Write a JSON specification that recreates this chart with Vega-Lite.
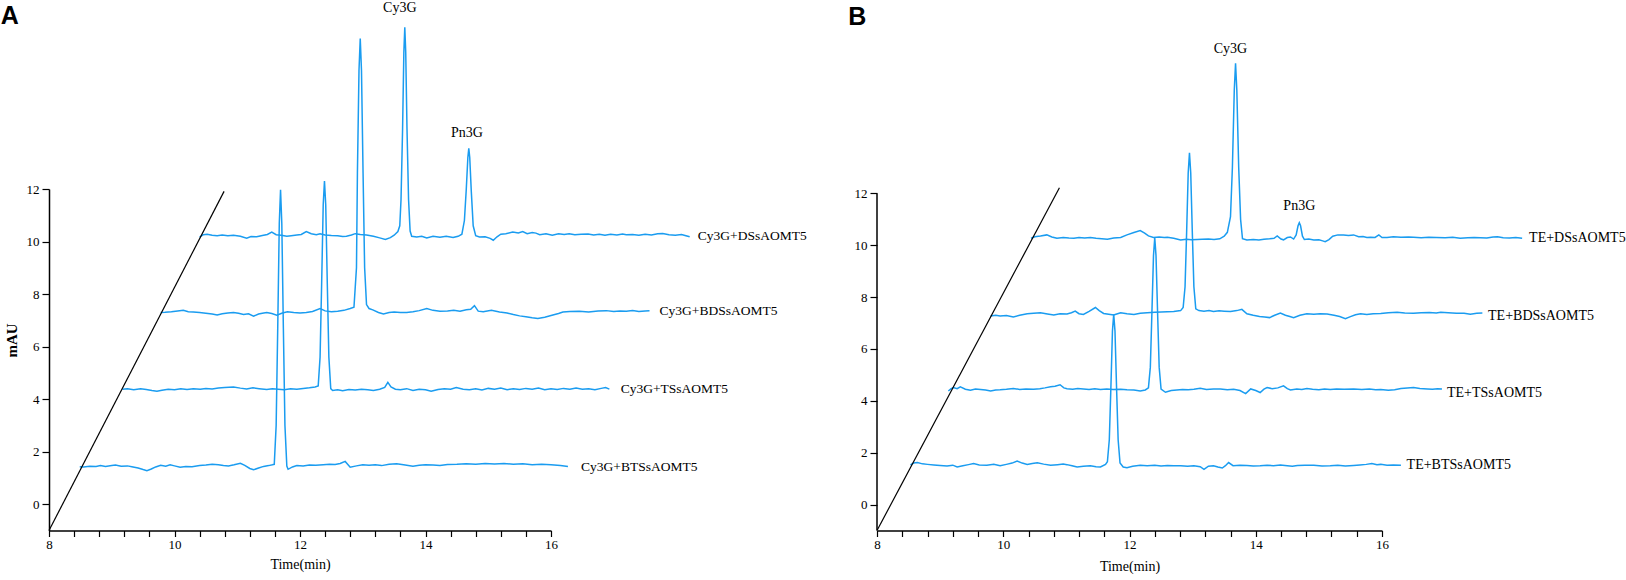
{
  "$schema": "https://vega.github.io/schema/vega-lite/v6.json",
  "background": "white",
  "padding": {"left": 0, "top": 1, "right": 0, "bottom": 0},
  "autosize": {"type": "pad"},
  "bounds": "flush",
  "spacing": 326,
  "config": {
    "view": {"stroke": null},
    "axis": {
      "grid": false,
      "domainColor": "black",
      "domainWidth": 1.5,
      "tickColor": "black",
      "tickWidth": 1.2,
      "labelColor": "black",
      "titleColor": "black",
      "labelFont": "Liberation Serif",
      "titleFont": "Liberation Serif",
      "labelFontSize": 13,
      "labelFlush": false,
      "labelOverlap": false,
      "format": "d"
    }
  },
  "datasets": {
    "A_traces": [
      {"s":"A1","x":8.49,"y":1.43},{"s":"A1","x":8.55,"y":1.42},{"s":"A1","x":8.65,"y":1.45},{"s":"A1","x":8.75,"y":1.44},{"s":"A1","x":8.82,"y":1.47},{"s":"A1","x":8.9,"y":1.44},{"s":"A1","x":9.0,"y":1.47},{"s":"A1","x":9.06,"y":1.49},{"s":"A1","x":9.15,"y":1.45},{"s":"A1","x":9.25,"y":1.46},{"s":"A1","x":9.32,"y":1.43},{"s":"A1","x":9.42,"y":1.38},{"s":"A1","x":9.5,"y":1.32},{"s":"A1","x":9.56,"y":1.28},{"s":"A1","x":9.63,"y":1.34},{"s":"A1","x":9.7,"y":1.42},{"s":"A1","x":9.78,"y":1.48},{"s":"A1","x":9.86,"y":1.45},{"s":"A1","x":9.93,"y":1.5},{"s":"A1","x":10.0,"y":1.46},{"s":"A1","x":10.09,"y":1.41},{"s":"A1","x":10.18,"y":1.44},{"s":"A1","x":10.28,"y":1.43},{"s":"A1","x":10.4,"y":1.47},{"s":"A1","x":10.5,"y":1.49},{"s":"A1","x":10.6,"y":1.52},{"s":"A1","x":10.7,"y":1.5},{"s":"A1","x":10.78,"y":1.47},{"s":"A1","x":10.86,"y":1.46},{"s":"A1","x":10.95,"y":1.5},{"s":"A1","x":11.05,"y":1.56},{"s":"A1","x":11.12,"y":1.48},{"s":"A1","x":11.2,"y":1.36},{"s":"A1","x":11.26,"y":1.31},{"s":"A1","x":11.34,"y":1.38},{"s":"A1","x":11.42,"y":1.44},{"s":"A1","x":11.5,"y":1.47},{"s":"A1","x":11.56,"y":1.5},{"s":"A1","x":11.59,"y":1.52},{"s":"A1","x":11.62,"y":3.0},{"s":"A1","x":11.645,"y":6.7},{"s":"A1","x":11.67,"y":10.7},{"s":"A1","x":11.69,"y":11.97},{"s":"A1","x":11.71,"y":10.7},{"s":"A1","x":11.735,"y":6.7},{"s":"A1","x":11.76,"y":3.0},{"s":"A1","x":11.79,"y":1.45},{"s":"A1","x":11.81,"y":1.33},{"s":"A1","x":11.88,"y":1.42},{"s":"A1","x":11.95,"y":1.47},{"s":"A1","x":12.05,"y":1.46},{"s":"A1","x":12.15,"y":1.49},{"s":"A1","x":12.25,"y":1.48},{"s":"A1","x":12.37,"y":1.5},{"s":"A1","x":12.47,"y":1.52},{"s":"A1","x":12.56,"y":1.51},{"s":"A1","x":12.64,"y":1.55},{"s":"A1","x":12.72,"y":1.63},{"s":"A1","x":12.8,"y":1.41},{"s":"A1","x":12.9,"y":1.46},{"s":"A1","x":13.0,"y":1.5},{"s":"A1","x":13.1,"y":1.48},{"s":"A1","x":13.2,"y":1.5},{"s":"A1","x":13.3,"y":1.47},{"s":"A1","x":13.42,"y":1.52},{"s":"A1","x":13.54,"y":1.54},{"s":"A1","x":13.65,"y":1.5},{"s":"A1","x":13.8,"y":1.45},{"s":"A1","x":13.9,"y":1.48},{"s":"A1","x":14.0,"y":1.5},{"s":"A1","x":14.12,"y":1.49},{"s":"A1","x":14.23,"y":1.47},{"s":"A1","x":14.35,"y":1.51},{"s":"A1","x":14.5,"y":1.52},{"s":"A1","x":14.65,"y":1.54},{"s":"A1","x":14.8,"y":1.52},{"s":"A1","x":14.95,"y":1.55},{"s":"A1","x":15.1,"y":1.53},{"s":"A1","x":15.25,"y":1.55},{"s":"A1","x":15.4,"y":1.52},{"s":"A1","x":15.55,"y":1.54},{"s":"A1","x":15.7,"y":1.5},{"s":"A1","x":15.85,"y":1.52},{"s":"A1","x":16.0,"y":1.5},{"s":"A1","x":16.15,"y":1.47},{"s":"A1","x":16.27,"y":1.44},
      {"s":"A2","x":9.17,"y":4.38},{"s":"A2","x":9.25,"y":4.4},{"s":"A2","x":9.35,"y":4.36},{"s":"A2","x":9.46,"y":4.4},{"s":"A2","x":9.55,"y":4.37},{"s":"A2","x":9.64,"y":4.33},{"s":"A2","x":9.72,"y":4.3},{"s":"A2","x":9.8,"y":4.34},{"s":"A2","x":9.9,"y":4.38},{"s":"A2","x":10.0,"y":4.36},{"s":"A2","x":10.1,"y":4.4},{"s":"A2","x":10.2,"y":4.37},{"s":"A2","x":10.3,"y":4.4},{"s":"A2","x":10.41,"y":4.38},{"s":"A2","x":10.5,"y":4.41},{"s":"A2","x":10.6,"y":4.39},{"s":"A2","x":10.7,"y":4.42},{"s":"A2","x":10.8,"y":4.44},{"s":"A2","x":10.94,"y":4.46},{"s":"A2","x":11.05,"y":4.42},{"s":"A2","x":11.15,"y":4.39},{"s":"A2","x":11.25,"y":4.43},{"s":"A2","x":11.35,"y":4.4},{"s":"A2","x":11.47,"y":4.37},{"s":"A2","x":11.56,"y":4.4},{"s":"A2","x":11.65,"y":4.38},{"s":"A2","x":11.75,"y":4.36},{"s":"A2","x":11.85,"y":4.4},{"s":"A2","x":11.95,"y":4.38},{"s":"A2","x":12.05,"y":4.41},{"s":"A2","x":12.15,"y":4.43},{"s":"A2","x":12.24,"y":4.46},{"s":"A2","x":12.29,"y":4.5},{"s":"A2","x":12.32,"y":5.6},{"s":"A2","x":12.345,"y":8.4},{"s":"A2","x":12.37,"y":11.4},{"s":"A2","x":12.39,"y":12.3},{"s":"A2","x":12.41,"y":11.4},{"s":"A2","x":12.435,"y":8.4},{"s":"A2","x":12.46,"y":5.6},{"s":"A2","x":12.49,"y":4.4},{"s":"A2","x":12.52,"y":4.33},{"s":"A2","x":12.6,"y":4.36},{"s":"A2","x":12.68,"y":4.32},{"s":"A2","x":12.78,"y":4.37},{"s":"A2","x":12.88,"y":4.35},{"s":"A2","x":12.98,"y":4.38},{"s":"A2","x":13.08,"y":4.36},{"s":"A2","x":13.17,"y":4.33},{"s":"A2","x":13.27,"y":4.38},{"s":"A2","x":13.35,"y":4.45},{"s":"A2","x":13.4,"y":4.64},{"s":"A2","x":13.45,"y":4.47},{"s":"A2","x":13.52,"y":4.38},{"s":"A2","x":13.6,"y":4.36},{"s":"A2","x":13.7,"y":4.4},{"s":"A2","x":13.8,"y":4.33},{"s":"A2","x":13.9,"y":4.38},{"s":"A2","x":14.0,"y":4.36},{"s":"A2","x":14.09,"y":4.3},{"s":"A2","x":14.2,"y":4.37},{"s":"A2","x":14.3,"y":4.4},{"s":"A2","x":14.4,"y":4.38},{"s":"A2","x":14.49,"y":4.44},{"s":"A2","x":14.6,"y":4.38},{"s":"A2","x":14.7,"y":4.36},{"s":"A2","x":14.8,"y":4.4},{"s":"A2","x":14.9,"y":4.35},{"s":"A2","x":15.0,"y":4.41},{"s":"A2","x":15.1,"y":4.38},{"s":"A2","x":15.2,"y":4.42},{"s":"A2","x":15.3,"y":4.36},{"s":"A2","x":15.4,"y":4.4},{"s":"A2","x":15.5,"y":4.37},{"s":"A2","x":15.6,"y":4.41},{"s":"A2","x":15.7,"y":4.38},{"s":"A2","x":15.8,"y":4.42},{"s":"A2","x":15.9,"y":4.36},{"s":"A2","x":16.0,"y":4.4},{"s":"A2","x":16.1,"y":4.37},{"s":"A2","x":16.2,"y":4.41},{"s":"A2","x":16.3,"y":4.38},{"s":"A2","x":16.4,"y":4.42},{"s":"A2","x":16.5,"y":4.38},{"s":"A2","x":16.6,"y":4.4},{"s":"A2","x":16.7,"y":4.36},{"s":"A2","x":16.8,"y":4.41},{"s":"A2","x":16.87,"y":4.44},{"s":"A2","x":16.93,"y":4.38},
      {"s":"A3","x":9.78,"y":7.3},{"s":"A3","x":9.85,"y":7.31},{"s":"A3","x":9.95,"y":7.33},{"s":"A3","x":10.05,"y":7.36},{"s":"A3","x":10.14,"y":7.38},{"s":"A3","x":10.22,"y":7.33},{"s":"A3","x":10.3,"y":7.32},{"s":"A3","x":10.4,"y":7.3},{"s":"A3","x":10.5,"y":7.27},{"s":"A3","x":10.6,"y":7.24},{"s":"A3","x":10.68,"y":7.2},{"s":"A3","x":10.76,"y":7.25},{"s":"A3","x":10.85,"y":7.28},{"s":"A3","x":10.94,"y":7.3},{"s":"A3","x":11.02,"y":7.27},{"s":"A3","x":11.1,"y":7.22},{"s":"A3","x":11.18,"y":7.25},{"s":"A3","x":11.26,"y":7.16},{"s":"A3","x":11.34,"y":7.24},{"s":"A3","x":11.4,"y":7.27},{"s":"A3","x":11.47,"y":7.3},{"s":"A3","x":11.55,"y":7.26},{"s":"A3","x":11.63,"y":7.2},{"s":"A3","x":11.72,"y":7.28},{"s":"A3","x":11.8,"y":7.33},{"s":"A3","x":11.9,"y":7.3},{"s":"A3","x":12.0,"y":7.28},{"s":"A3","x":12.1,"y":7.3},{"s":"A3","x":12.2,"y":7.34},{"s":"A3","x":12.32,"y":7.45},{"s":"A3","x":12.4,"y":7.36},{"s":"A3","x":12.5,"y":7.33},{"s":"A3","x":12.6,"y":7.35},{"s":"A3","x":12.7,"y":7.38},{"s":"A3","x":12.8,"y":7.45},{"s":"A3","x":12.86,"y":7.5},{"s":"A3","x":12.9,"y":9.0},{"s":"A3","x":12.915,"y":12.6},{"s":"A3","x":12.94,"y":16.5},{"s":"A3","x":12.96,"y":17.73},{"s":"A3","x":12.98,"y":16.5},{"s":"A3","x":13.005,"y":12.6},{"s":"A3","x":13.03,"y":9.0},{"s":"A3","x":13.06,"y":7.6},{"s":"A3","x":13.1,"y":7.45},{"s":"A3","x":13.16,"y":7.4},{"s":"A3","x":13.25,"y":7.3},{"s":"A3","x":13.33,"y":7.24},{"s":"A3","x":13.42,"y":7.3},{"s":"A3","x":13.5,"y":7.32},{"s":"A3","x":13.6,"y":7.3},{"s":"A3","x":13.7,"y":7.3},{"s":"A3","x":13.8,"y":7.33},{"s":"A3","x":13.9,"y":7.37},{"s":"A3","x":14.02,"y":7.45},{"s":"A3","x":14.12,"y":7.38},{"s":"A3","x":14.23,"y":7.35},{"s":"A3","x":14.35,"y":7.36},{"s":"A3","x":14.45,"y":7.38},{"s":"A3","x":14.55,"y":7.35},{"s":"A3","x":14.65,"y":7.4},{"s":"A3","x":14.72,"y":7.42},{"s":"A3","x":14.78,"y":7.56},{"s":"A3","x":14.84,"y":7.35},{"s":"A3","x":14.92,"y":7.33},{"s":"A3","x":15.05,"y":7.38},{"s":"A3","x":15.18,"y":7.32},{"s":"A3","x":15.3,"y":7.28},{"s":"A3","x":15.4,"y":7.22},{"s":"A3","x":15.5,"y":7.17},{"s":"A3","x":15.6,"y":7.14},{"s":"A3","x":15.7,"y":7.1},{"s":"A3","x":15.79,"y":7.07},{"s":"A3","x":15.9,"y":7.12},{"s":"A3","x":16.03,"y":7.2},{"s":"A3","x":16.12,"y":7.26},{"s":"A3","x":16.19,"y":7.32},{"s":"A3","x":16.3,"y":7.34},{"s":"A3","x":16.45,"y":7.35},{"s":"A3","x":16.6,"y":7.32},{"s":"A3","x":16.75,"y":7.36},{"s":"A3","x":16.88,"y":7.37},{"s":"A3","x":17.0,"y":7.34},{"s":"A3","x":17.1,"y":7.36},{"s":"A3","x":17.2,"y":7.35},{"s":"A3","x":17.3,"y":7.37},{"s":"A3","x":17.4,"y":7.34},{"s":"A3","x":17.5,"y":7.36},{"s":"A3","x":17.57,"y":7.37},
      {"s":"A4","x":10.4,"y":10.17},{"s":"A4","x":10.46,"y":10.26},{"s":"A4","x":10.52,"y":10.28},{"s":"A4","x":10.6,"y":10.24},{"s":"A4","x":10.68,"y":10.22},{"s":"A4","x":10.76,"y":10.25},{"s":"A4","x":10.85,"y":10.22},{"s":"A4","x":10.94,"y":10.24},{"s":"A4","x":11.05,"y":10.2},{"s":"A4","x":11.15,"y":10.13},{"s":"A4","x":11.22,"y":10.19},{"s":"A4","x":11.31,"y":10.18},{"s":"A4","x":11.4,"y":10.23},{"s":"A4","x":11.48,"y":10.27},{"s":"A4","x":11.55,"y":10.36},{"s":"A4","x":11.62,"y":10.26},{"s":"A4","x":11.7,"y":10.24},{"s":"A4","x":11.79,"y":10.2},{"s":"A4","x":11.86,"y":10.22},{"s":"A4","x":11.95,"y":10.25},{"s":"A4","x":12.02,"y":10.27},{"s":"A4","x":12.1,"y":10.38},{"s":"A4","x":12.18,"y":10.3},{"s":"A4","x":12.26,"y":10.26},{"s":"A4","x":12.32,"y":10.3},{"s":"A4","x":12.4,"y":10.25},{"s":"A4","x":12.5,"y":10.23},{"s":"A4","x":12.6,"y":10.22},{"s":"A4","x":12.68,"y":10.19},{"s":"A4","x":12.74,"y":10.2},{"s":"A4","x":12.82,"y":10.25},{"s":"A4","x":12.88,"y":10.3},{"s":"A4","x":12.96,"y":10.27},{"s":"A4","x":13.06,"y":10.25},{"s":"A4","x":13.17,"y":10.2},{"s":"A4","x":13.27,"y":10.14},{"s":"A4","x":13.36,"y":10.08},{"s":"A4","x":13.44,"y":10.15},{"s":"A4","x":13.5,"y":10.24},{"s":"A4","x":13.56,"y":10.38},{"s":"A4","x":13.59,"y":10.6},{"s":"A4","x":13.61,"y":11.6},{"s":"A4","x":13.635,"y":14.3},{"s":"A4","x":13.655,"y":17.2},{"s":"A4","x":13.67,"y":18.16},{"s":"A4","x":13.685,"y":17.2},{"s":"A4","x":13.705,"y":14.3},{"s":"A4","x":13.73,"y":11.6},{"s":"A4","x":13.755,"y":10.4},{"s":"A4","x":13.78,"y":10.2},{"s":"A4","x":13.86,"y":10.17},{"s":"A4","x":13.94,"y":10.2},{"s":"A4","x":14.02,"y":10.14},{"s":"A4","x":14.12,"y":10.2},{"s":"A4","x":14.23,"y":10.16},{"s":"A4","x":14.33,"y":10.2},{"s":"A4","x":14.44,"y":10.15},{"s":"A4","x":14.52,"y":10.2},{"s":"A4","x":14.58,"y":10.28},{"s":"A4","x":14.62,"y":10.8},{"s":"A4","x":14.65,"y":12.0},{"s":"A4","x":14.675,"y":13.2},{"s":"A4","x":14.69,"y":13.55},{"s":"A4","x":14.705,"y":13.2},{"s":"A4","x":14.73,"y":11.9},{"s":"A4","x":14.76,"y":10.6},{"s":"A4","x":14.8,"y":10.22},{"s":"A4","x":14.86,"y":10.17},{"s":"A4","x":14.95,"y":10.18},{"s":"A4","x":15.03,"y":10.12},{"s":"A4","x":15.08,"y":10.05},{"s":"A4","x":15.14,"y":10.18},{"s":"A4","x":15.2,"y":10.28},{"s":"A4","x":15.28,"y":10.3},{"s":"A4","x":15.39,"y":10.36},{"s":"A4","x":15.48,"y":10.33},{"s":"A4","x":15.55,"y":10.38},{"s":"A4","x":15.62,"y":10.3},{"s":"A4","x":15.7,"y":10.34},{"s":"A4","x":15.76,"y":10.32},{"s":"A4","x":15.82,"y":10.26},{"s":"A4","x":15.92,"y":10.3},{"s":"A4","x":16.02,"y":10.24},{"s":"A4","x":16.12,"y":10.3},{"s":"A4","x":16.21,"y":10.27},{"s":"A4","x":16.29,"y":10.3},{"s":"A4","x":16.38,"y":10.26},{"s":"A4","x":16.48,"y":10.28},{"s":"A4","x":16.59,"y":10.29},{"s":"A4","x":16.68,"y":10.25},{"s":"A4","x":16.77,"y":10.28},{"s":"A4","x":16.86,"y":10.24},{"s":"A4","x":16.95,"y":10.28},{"s":"A4","x":17.05,"y":10.25},{"s":"A4","x":17.14,"y":10.29},{"s":"A4","x":17.2,"y":10.26},{"s":"A4","x":17.3,"y":10.27},{"s":"A4","x":17.4,"y":10.24},{"s":"A4","x":17.5,"y":10.28},{"s":"A4","x":17.6,"y":10.25},{"s":"A4","x":17.7,"y":10.3},{"s":"A4","x":17.78,"y":10.31},{"s":"A4","x":17.88,"y":10.26},{"s":"A4","x":17.98,"y":10.24},{"s":"A4","x":18.08,"y":10.27},{"s":"A4","x":18.15,"y":10.22},{"s":"A4","x":18.21,"y":10.18}
    ],
    "B_traces": [
      {"s":"B1","x":8.53,"y":1.53},{"s":"B1","x":8.58,"y":1.6},{"s":"B1","x":8.64,"y":1.62},{"s":"B1","x":8.72,"y":1.57},{"s":"B1","x":8.8,"y":1.55},{"s":"B1","x":8.9,"y":1.53},{"s":"B1","x":9.0,"y":1.51},{"s":"B1","x":9.11,"y":1.49},{"s":"B1","x":9.2,"y":1.52},{"s":"B1","x":9.27,"y":1.45},{"s":"B1","x":9.36,"y":1.5},{"s":"B1","x":9.45,"y":1.54},{"s":"B1","x":9.53,"y":1.58},{"s":"B1","x":9.62,"y":1.53},{"s":"B1","x":9.74,"y":1.52},{"s":"B1","x":9.85,"y":1.55},{"s":"B1","x":9.95,"y":1.5},{"s":"B1","x":10.05,"y":1.55},{"s":"B1","x":10.14,"y":1.6},{"s":"B1","x":10.22,"y":1.68},{"s":"B1","x":10.3,"y":1.6},{"s":"B1","x":10.38,"y":1.55},{"s":"B1","x":10.46,"y":1.58},{"s":"B1","x":10.54,"y":1.61},{"s":"B1","x":10.64,"y":1.56},{"s":"B1","x":10.75,"y":1.52},{"s":"B1","x":10.86,"y":1.54},{"s":"B1","x":10.95,"y":1.56},{"s":"B1","x":11.01,"y":1.54},{"s":"B1","x":11.09,"y":1.5},{"s":"B1","x":11.17,"y":1.45},{"s":"B1","x":11.27,"y":1.48},{"s":"B1","x":11.38,"y":1.5},{"s":"B1","x":11.47,"y":1.46},{"s":"B1","x":11.54,"y":1.45},{"s":"B1","x":11.62,"y":1.55},{"s":"B1","x":11.65,"y":1.65},{"s":"B1","x":11.68,"y":2.5},{"s":"B1","x":11.705,"y":4.5},{"s":"B1","x":11.73,"y":6.7},{"s":"B1","x":11.75,"y":7.34},{"s":"B1","x":11.77,"y":6.7},{"s":"B1","x":11.795,"y":4.5},{"s":"B1","x":11.82,"y":2.5},{"s":"B1","x":11.85,"y":1.6},{"s":"B1","x":11.9,"y":1.45},{"s":"B1","x":11.96,"y":1.42},{"s":"B1","x":12.05,"y":1.48},{"s":"B1","x":12.17,"y":1.52},{"s":"B1","x":12.28,"y":1.5},{"s":"B1","x":12.4,"y":1.52},{"s":"B1","x":12.5,"y":1.49},{"s":"B1","x":12.6,"y":1.51},{"s":"B1","x":12.7,"y":1.5},{"s":"B1","x":12.81,"y":1.5},{"s":"B1","x":12.92,"y":1.48},{"s":"B1","x":13.02,"y":1.5},{"s":"B1","x":13.12,"y":1.46},{"s":"B1","x":13.18,"y":1.36},{"s":"B1","x":13.25,"y":1.48},{"s":"B1","x":13.33,"y":1.5},{"s":"B1","x":13.4,"y":1.45},{"s":"B1","x":13.47,"y":1.41},{"s":"B1","x":13.52,"y":1.5},{"s":"B1","x":13.57,"y":1.62},{"s":"B1","x":13.64,"y":1.5},{"s":"B1","x":13.75,"y":1.52},{"s":"B1","x":13.86,"y":1.51},{"s":"B1","x":13.96,"y":1.49},{"s":"B1","x":14.07,"y":1.5},{"s":"B1","x":14.18,"y":1.52},{"s":"B1","x":14.28,"y":1.5},{"s":"B1","x":14.39,"y":1.53},{"s":"B1","x":14.5,"y":1.5},{"s":"B1","x":14.58,"y":1.48},{"s":"B1","x":14.66,"y":1.51},{"s":"B1","x":14.78,"y":1.52},{"s":"B1","x":14.92,"y":1.52},{"s":"B1","x":15.05,"y":1.49},{"s":"B1","x":15.18,"y":1.5},{"s":"B1","x":15.3,"y":1.52},{"s":"B1","x":15.42,"y":1.49},{"s":"B1","x":15.55,"y":1.51},{"s":"B1","x":15.65,"y":1.53},{"s":"B1","x":15.75,"y":1.55},{"s":"B1","x":15.84,"y":1.58},{"s":"B1","x":15.92,"y":1.54},{"s":"B1","x":15.98,"y":1.55},{"s":"B1","x":16.08,"y":1.52},{"s":"B1","x":16.18,"y":1.53},{"s":"B1","x":16.3,"y":1.52},
      {"s":"B2","x":9.13,"y":4.38},{"s":"B2","x":9.17,"y":4.46},{"s":"B2","x":9.21,"y":4.51},{"s":"B2","x":9.27,"y":4.47},{"s":"B2","x":9.32,"y":4.54},{"s":"B2","x":9.4,"y":4.45},{"s":"B2","x":9.48,"y":4.41},{"s":"B2","x":9.56,"y":4.46},{"s":"B2","x":9.64,"y":4.44},{"s":"B2","x":9.72,"y":4.42},{"s":"B2","x":9.8,"y":4.38},{"s":"B2","x":9.88,"y":4.42},{"s":"B2","x":9.95,"y":4.43},{"s":"B2","x":10.05,"y":4.45},{"s":"B2","x":10.16,"y":4.48},{"s":"B2","x":10.26,"y":4.44},{"s":"B2","x":10.36,"y":4.46},{"s":"B2","x":10.48,"y":4.45},{"s":"B2","x":10.58,"y":4.47},{"s":"B2","x":10.66,"y":4.5},{"s":"B2","x":10.75,"y":4.54},{"s":"B2","x":10.82,"y":4.56},{"s":"B2","x":10.9,"y":4.62},{"s":"B2","x":10.96,"y":4.5},{"s":"B2","x":11.01,"y":4.47},{"s":"B2","x":11.1,"y":4.45},{"s":"B2","x":11.18,"y":4.48},{"s":"B2","x":11.27,"y":4.46},{"s":"B2","x":11.36,"y":4.44},{"s":"B2","x":11.45,"y":4.47},{"s":"B2","x":11.54,"y":4.44},{"s":"B2","x":11.64,"y":4.46},{"s":"B2","x":11.74,"y":4.44},{"s":"B2","x":11.86,"y":4.45},{"s":"B2","x":11.96,"y":4.43},{"s":"B2","x":12.07,"y":4.42},{"s":"B2","x":12.17,"y":4.38},{"s":"B2","x":12.25,"y":4.42},{"s":"B2","x":12.3,"y":4.5},{"s":"B2","x":12.33,"y":5.3},{"s":"B2","x":12.355,"y":7.4},{"s":"B2","x":12.38,"y":9.6},{"s":"B2","x":12.4,"y":10.29},{"s":"B2","x":12.42,"y":9.6},{"s":"B2","x":12.445,"y":7.4},{"s":"B2","x":12.47,"y":5.3},{"s":"B2","x":12.5,"y":4.45},{"s":"B2","x":12.57,"y":4.33},{"s":"B2","x":12.66,"y":4.4},{"s":"B2","x":12.75,"y":4.42},{"s":"B2","x":12.84,"y":4.44},{"s":"B2","x":12.93,"y":4.43},{"s":"B2","x":13.02,"y":4.45},{"s":"B2","x":13.12,"y":4.49},{"s":"B2","x":13.22,"y":4.44},{"s":"B2","x":13.33,"y":4.46},{"s":"B2","x":13.44,"y":4.46},{"s":"B2","x":13.55,"y":4.43},{"s":"B2","x":13.65,"y":4.45},{"s":"B2","x":13.75,"y":4.4},{"s":"B2","x":13.84,"y":4.28},{"s":"B2","x":13.92,"y":4.46},{"s":"B2","x":14.0,"y":4.4},{"s":"B2","x":14.07,"y":4.32},{"s":"B2","x":14.13,"y":4.45},{"s":"B2","x":14.18,"y":4.51},{"s":"B2","x":14.26,"y":4.47},{"s":"B2","x":14.35,"y":4.5},{"s":"B2","x":14.44,"y":4.58},{"s":"B2","x":14.5,"y":4.47},{"s":"B2","x":14.55,"y":4.42},{"s":"B2","x":14.65,"y":4.46},{"s":"B2","x":14.73,"y":4.44},{"s":"B2","x":14.81,"y":4.48},{"s":"B2","x":14.9,"y":4.45},{"s":"B2","x":15.0,"y":4.43},{"s":"B2","x":15.09,"y":4.46},{"s":"B2","x":15.18,"y":4.44},{"s":"B2","x":15.28,"y":4.46},{"s":"B2","x":15.4,"y":4.45},{"s":"B2","x":15.55,"y":4.46},{"s":"B2","x":15.68,"y":4.44},{"s":"B2","x":15.8,"y":4.46},{"s":"B2","x":15.9,"y":4.43},{"s":"B2","x":15.98,"y":4.44},{"s":"B2","x":16.1,"y":4.41},{"s":"B2","x":16.2,"y":4.43},{"s":"B2","x":16.3,"y":4.48},{"s":"B2","x":16.4,"y":4.5},{"s":"B2","x":16.5,"y":4.51},{"s":"B2","x":16.6,"y":4.48},{"s":"B2","x":16.72,"y":4.46},{"s":"B2","x":16.8,"y":4.45},{"s":"B2","x":16.88,"y":4.47},{"s":"B2","x":16.95,"y":4.46},
      {"s":"B3","x":9.8,"y":7.27},{"s":"B3","x":9.88,"y":7.3},{"s":"B3","x":9.95,"y":7.27},{"s":"B3","x":10.05,"y":7.29},{"s":"B3","x":10.16,"y":7.23},{"s":"B3","x":10.26,"y":7.3},{"s":"B3","x":10.38,"y":7.36},{"s":"B3","x":10.48,"y":7.38},{"s":"B3","x":10.59,"y":7.4},{"s":"B3","x":10.7,"y":7.35},{"s":"B3","x":10.8,"y":7.31},{"s":"B3","x":10.9,"y":7.36},{"s":"B3","x":11.01,"y":7.35},{"s":"B3","x":11.08,"y":7.4},{"s":"B3","x":11.14,"y":7.46},{"s":"B3","x":11.2,"y":7.36},{"s":"B3","x":11.27,"y":7.33},{"s":"B3","x":11.36,"y":7.45},{"s":"B3","x":11.46,"y":7.6},{"s":"B3","x":11.52,"y":7.48},{"s":"B3","x":11.59,"y":7.37},{"s":"B3","x":11.67,"y":7.34},{"s":"B3","x":11.75,"y":7.31},{"s":"B3","x":11.81,"y":7.36},{"s":"B3","x":11.86,"y":7.4},{"s":"B3","x":11.96,"y":7.36},{"s":"B3","x":12.07,"y":7.33},{"s":"B3","x":12.17,"y":7.38},{"s":"B3","x":12.28,"y":7.4},{"s":"B3","x":12.4,"y":7.42},{"s":"B3","x":12.5,"y":7.43},{"s":"B3","x":12.6,"y":7.44},{"s":"B3","x":12.7,"y":7.45},{"s":"B3","x":12.81,"y":7.48},{"s":"B3","x":12.85,"y":7.6},{"s":"B3","x":12.88,"y":8.4},{"s":"B3","x":12.905,"y":10.5},{"s":"B3","x":12.93,"y":12.8},{"s":"B3","x":12.95,"y":13.57},{"s":"B3","x":12.97,"y":12.8},{"s":"B3","x":12.995,"y":10.5},{"s":"B3","x":13.02,"y":8.4},{"s":"B3","x":13.05,"y":7.55},{"s":"B3","x":13.1,"y":7.48},{"s":"B3","x":13.18,"y":7.46},{"s":"B3","x":13.26,"y":7.48},{"s":"B3","x":13.33,"y":7.45},{"s":"B3","x":13.42,"y":7.47},{"s":"B3","x":13.5,"y":7.46},{"s":"B3","x":13.6,"y":7.45},{"s":"B3","x":13.7,"y":7.48},{"s":"B3","x":13.78,"y":7.53},{"s":"B3","x":13.86,"y":7.36},{"s":"B3","x":13.96,"y":7.3},{"s":"B3","x":14.06,"y":7.25},{"s":"B3","x":14.14,"y":7.23},{"s":"B3","x":14.22,"y":7.21},{"s":"B3","x":14.3,"y":7.3},{"s":"B3","x":14.39,"y":7.39},{"s":"B3","x":14.47,"y":7.3},{"s":"B3","x":14.54,"y":7.25},{"s":"B3","x":14.6,"y":7.21},{"s":"B3","x":14.7,"y":7.3},{"s":"B3","x":14.81,"y":7.36},{"s":"B3","x":14.92,"y":7.34},{"s":"B3","x":15.02,"y":7.36},{"s":"B3","x":15.13,"y":7.35},{"s":"B3","x":15.24,"y":7.3},{"s":"B3","x":15.33,"y":7.25},{"s":"B3","x":15.42,"y":7.17},{"s":"B3","x":15.5,"y":7.25},{"s":"B3","x":15.58,"y":7.32},{"s":"B3","x":15.66,"y":7.36},{"s":"B3","x":15.76,"y":7.33},{"s":"B3","x":15.86,"y":7.36},{"s":"B3","x":15.98,"y":7.37},{"s":"B3","x":16.1,"y":7.4},{"s":"B3","x":16.24,"y":7.42},{"s":"B3","x":16.36,"y":7.39},{"s":"B3","x":16.5,"y":7.38},{"s":"B3","x":16.62,"y":7.4},{"s":"B3","x":16.75,"y":7.41},{"s":"B3","x":16.86,"y":7.39},{"s":"B3","x":16.93,"y":7.42},{"s":"B3","x":17.05,"y":7.4},{"s":"B3","x":17.18,"y":7.38},{"s":"B3","x":17.3,"y":7.38},{"s":"B3","x":17.4,"y":7.34},{"s":"B3","x":17.5,"y":7.38},{"s":"B3","x":17.59,"y":7.39},
      {"s":"B4","x":10.44,"y":10.27},{"s":"B4","x":10.5,"y":10.33},{"s":"B4","x":10.59,"y":10.36},{"s":"B4","x":10.69,"y":10.4},{"s":"B4","x":10.77,"y":10.32},{"s":"B4","x":10.85,"y":10.27},{"s":"B4","x":10.95,"y":10.3},{"s":"B4","x":11.04,"y":10.28},{"s":"B4","x":11.12,"y":10.27},{"s":"B4","x":11.2,"y":10.3},{"s":"B4","x":11.29,"y":10.28},{"s":"B4","x":11.38,"y":10.3},{"s":"B4","x":11.47,"y":10.27},{"s":"B4","x":11.56,"y":10.25},{"s":"B4","x":11.65,"y":10.23},{"s":"B4","x":11.75,"y":10.28},{"s":"B4","x":11.86,"y":10.3},{"s":"B4","x":11.96,"y":10.4},{"s":"B4","x":12.07,"y":10.49},{"s":"B4","x":12.17,"y":10.57},{"s":"B4","x":12.24,"y":10.47},{"s":"B4","x":12.3,"y":10.36},{"s":"B4","x":12.38,"y":10.3},{"s":"B4","x":12.47,"y":10.32},{"s":"B4","x":12.55,"y":10.3},{"s":"B4","x":12.6,"y":10.31},{"s":"B4","x":12.7,"y":10.27},{"s":"B4","x":12.81,"y":10.2},{"s":"B4","x":12.9,"y":10.23},{"s":"B4","x":12.98,"y":10.21},{"s":"B4","x":13.07,"y":10.22},{"s":"B4","x":13.15,"y":10.23},{"s":"B4","x":13.25,"y":10.24},{"s":"B4","x":13.34,"y":10.22},{"s":"B4","x":13.43,"y":10.25},{"s":"B4","x":13.5,"y":10.35},{"s":"B4","x":13.55,"y":10.5},{"s":"B4","x":13.6,"y":11.1},{"s":"B4","x":13.63,"y":13.0},{"s":"B4","x":13.66,"y":16.0},{"s":"B4","x":13.68,"y":17.02},{"s":"B4","x":13.7,"y":16.0},{"s":"B4","x":13.73,"y":13.0},{"s":"B4","x":13.76,"y":11.0},{"s":"B4","x":13.79,"y":10.25},{"s":"B4","x":13.86,"y":10.2},{"s":"B4","x":13.96,"y":10.22},{"s":"B4","x":14.05,"y":10.2},{"s":"B4","x":14.13,"y":10.23},{"s":"B4","x":14.22,"y":10.25},{"s":"B4","x":14.29,"y":10.27},{"s":"B4","x":14.34,"y":10.36},{"s":"B4","x":14.4,"y":10.24},{"s":"B4","x":14.44,"y":10.21},{"s":"B4","x":14.5,"y":10.3},{"s":"B4","x":14.55,"y":10.32},{"s":"B4","x":14.6,"y":10.24},{"s":"B4","x":14.64,"y":10.4},{"s":"B4","x":14.67,"y":10.75},{"s":"B4","x":14.69,"y":10.87},{"s":"B4","x":14.71,"y":10.75},{"s":"B4","x":14.74,"y":10.35},{"s":"B4","x":14.77,"y":10.22},{"s":"B4","x":14.84,"y":10.24},{"s":"B4","x":14.92,"y":10.2},{"s":"B4","x":15.0,"y":10.21},{"s":"B4","x":15.06,"y":10.17},{"s":"B4","x":15.1,"y":10.14},{"s":"B4","x":15.16,"y":10.22},{"s":"B4","x":15.22,"y":10.35},{"s":"B4","x":15.3,"y":10.4},{"s":"B4","x":15.39,"y":10.4},{"s":"B4","x":15.47,"y":10.38},{"s":"B4","x":15.55,"y":10.4},{"s":"B4","x":15.63,"y":10.33},{"s":"B4","x":15.7,"y":10.34},{"s":"B4","x":15.76,"y":10.3},{"s":"B4","x":15.82,"y":10.31},{"s":"B4","x":15.89,"y":10.3},{"s":"B4","x":15.95,"y":10.4},{"s":"B4","x":16.0,"y":10.3},{"s":"B4","x":16.08,"y":10.3},{"s":"B4","x":16.18,"y":10.33},{"s":"B4","x":16.3,"y":10.31},{"s":"B4","x":16.42,"y":10.32},{"s":"B4","x":16.5,"y":10.31},{"s":"B4","x":16.62,"y":10.29},{"s":"B4","x":16.74,"y":10.31},{"s":"B4","x":16.86,"y":10.3},{"s":"B4","x":17.0,"y":10.29},{"s":"B4","x":17.12,"y":10.31},{"s":"B4","x":17.24,"y":10.27},{"s":"B4","x":17.36,"y":10.29},{"s":"B4","x":17.46,"y":10.3},{"s":"B4","x":17.56,"y":10.29},{"s":"B4","x":17.66,"y":10.28},{"s":"B4","x":17.76,"y":10.32},{"s":"B4","x":17.83,"y":10.33},{"s":"B4","x":17.92,"y":10.29},{"s":"B4","x":18.02,"y":10.28},{"s":"B4","x":18.12,"y":10.3},{"s":"B4","x":18.22,"y":10.27}
    ],
    "A_axis3d": [{"x": 8, "y": -1}, {"x": 10.79, "y": 11.91}],
    "B_axis3d": [{"x": 8, "y": -1}, {"x": 10.89, "y": 12.22}],
    "B_yline": [{"x": 8, "y": -1, "y2": 12}],
    "A_names": [
      {"t": "Cy3G+DSsAOMT5", "x": 18.34, "y": 10.22},
      {"t": "Cy3G+BDSsAOMT5", "x": 17.73, "y": 7.36},
      {"t": "Cy3G+TSsAOMT5", "x": 17.11, "y": 4.37},
      {"t": "Cy3G+BTSsAOMT5", "x": 16.48, "y": 1.43}
    ],
    "B_names": [
      {"t": "TE+DSsAOMT5", "x": 18.33, "y": 10.29},
      {"t": "TE+BDSsAOMT5", "x": 17.68, "y": 7.27},
      {"t": "TE+TSsAOMT5", "x": 17.03, "y": 4.32},
      {"t": "TE+BTSsAOMT5", "x": 16.39, "y": 1.53}
    ],
    "A_peaks": [
      {"t": "Cy3G", "x": 13.59, "y": 18.72},
      {"t": "Pn3G", "x": 14.66, "y": 13.98}
    ],
    "B_peaks": [
      {"t": "Cy3G", "x": 13.6, "y": 17.43},
      {"t": "Pn3G", "x": 14.69, "y": 11.36}
    ],
    "A_tag": [{"t": "A", "x": 7.232, "y": 18.29}],
    "B_tag": [{"t": "B", "x": 7.545, "y": 18.49}]
  },
  "hconcat": [
    {
      "width": 502,
      "height": 341.5,
      "encoding": {
        "x": {
          "field": "x",
          "type": "quantitative",
          "scale": {"domain": [8, 16], "nice": false, "zero": false},
          "axis": {
            "title": "Time(min)",
            "values": [8, 8.4, 8.8, 9.2, 9.6, 10, 10.4, 10.8, 11.2, 11.6, 12, 12.4, 12.8, 13.2, 13.6, 14, 14.4, 14.8, 15.2, 15.6, 16],
            "labelExpr": "datum.value % 2 == 0 ? datum.label : ''",
            "tickSize": 6,
            "labelPadding": 2,
            "titlePadding": 6,
            "titleFontSize": 14,
            "titleFontWeight": "normal"
          }
        },
        "y": {
          "field": "y",
          "type": "quantitative",
          "scale": {"domain": [-1, 12], "nice": false, "zero": false},
          "axis": {
            "title": "mAU",
            "values": [0, 2, 4, 6, 8, 10, 12],
            "tickSize": 7,
            "labelPadding": 3,
            "titleFontSize": 15,
            "titleFontWeight": "bold",
            "titleAngle": 270,
            "titleAlign": "center",
            "titleBaseline": "alphabetic",
            "titleX": -33,
            "titleY": 151
          }
        }
      },
      "layer": [
        {
          "data": {"name": "A_traces"},
          "mark": {"type": "line", "color": "#1a9cf0", "strokeWidth": 1.5, "clip": false},
          "encoding": {"detail": {"field": "s"}}
        },
        {
          "data": {"name": "A_axis3d"},
          "mark": {"type": "line", "color": "black", "strokeWidth": 1.2, "clip": false},
          "encoding": {}
        },
        {
          "data": {"name": "A_names"},
          "mark": {"type": "text", "align": "left", "baseline": "middle", "font": "Liberation Serif", "fontSize": 13.5, "color": "black", "clip": false},
          "encoding": {"text": {"field": "t"}}
        },
        {
          "data": {"name": "A_peaks"},
          "mark": {"type": "text", "align": "center", "baseline": "alphabetic", "font": "Liberation Serif", "fontSize": 14, "color": "black", "clip": false},
          "encoding": {"text": {"field": "t"}}
        },
        {
          "data": {"name": "A_tag"},
          "mark": {"type": "text", "align": "left", "baseline": "alphabetic", "font": "Liberation Sans", "fontWeight": "bold", "fontSize": 25, "color": "black", "clip": false},
          "encoding": {"text": {"field": "t"}}
        }
      ]
    },
    {
      "width": 505,
      "height": 341.5,
      "encoding": {
        "x": {
          "field": "x",
          "type": "quantitative",
          "scale": {"domain": [8, 16], "nice": false, "zero": false},
          "axis": {
            "title": "Time(min)",
            "values": [8, 8.4, 8.8, 9.2, 9.6, 10, 10.4, 10.8, 11.2, 11.6, 12, 12.4, 12.8, 13.2, 13.6, 14, 14.4, 14.8, 15.2, 15.6, 16],
            "labelExpr": "datum.value % 2 == 0 ? datum.label : ''",
            "tickSize": 6,
            "labelPadding": 2,
            "titlePadding": 8,
            "titleFontSize": 14,
            "titleFontWeight": "normal"
          }
        },
        "y": {
          "field": "y",
          "type": "quantitative",
          "scale": {"domain": [-1, 12.17], "nice": false, "zero": false},
          "axis": {
            "title": null,
            "domain": false,
            "values": [0, 2, 4, 6, 8, 10, 12],
            "tickSize": 7,
            "labelPadding": 3
          }
        }
      },
      "layer": [
        {
          "data": {"name": "B_yline"},
          "mark": {"type": "rule", "color": "black", "strokeWidth": 1.5, "clip": false},
          "encoding": {"y2": {"field": "y2"}}
        },
        {
          "data": {"name": "B_traces"},
          "mark": {"type": "line", "color": "#1a9cf0", "strokeWidth": 1.5, "clip": false},
          "encoding": {"detail": {"field": "s"}}
        },
        {
          "data": {"name": "B_axis3d"},
          "mark": {"type": "line", "color": "black", "strokeWidth": 1.2, "clip": false},
          "encoding": {}
        },
        {
          "data": {"name": "B_names"},
          "mark": {"type": "text", "align": "left", "baseline": "middle", "font": "Liberation Serif", "fontSize": 14, "color": "black", "clip": false},
          "encoding": {"text": {"field": "t"}}
        },
        {
          "data": {"name": "B_peaks"},
          "mark": {"type": "text", "align": "center", "baseline": "alphabetic", "font": "Liberation Serif", "fontSize": 14, "color": "black", "clip": false},
          "encoding": {"text": {"field": "t"}}
        },
        {
          "data": {"name": "B_tag"},
          "mark": {"type": "text", "align": "left", "baseline": "alphabetic", "font": "Liberation Sans", "fontWeight": "bold", "fontSize": 25, "color": "black", "clip": false},
          "encoding": {"text": {"field": "t"}}
        }
      ]
    }
  ]
}
